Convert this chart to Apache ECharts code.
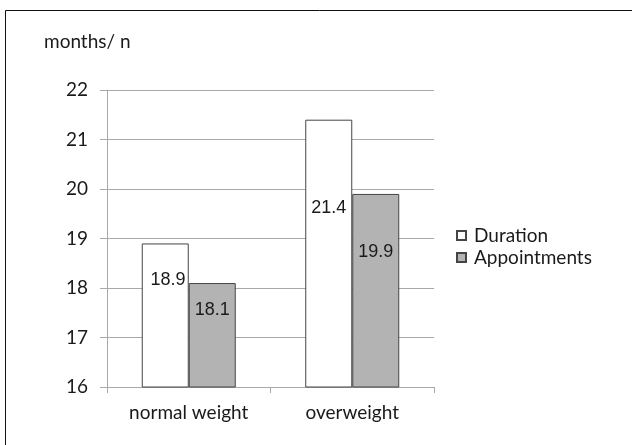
<!DOCTYPE html>
<html>
<head>
<meta charset="utf-8">
<script src="https://cdn.jsdelivr.net/npm/echarts@6/dist/echarts.min.js"></script>
<style>
  html, body { margin: 0; padding: 0; background: #fff; }
  #chart { width: 632px; height: 445px; }
</style>
</head>
<body>
<div id="chart"></div>
<script>
// Mean treatment duration and number of appointments by weight group
const categories = ['normal weight', 'overweight'];
const duration = [18.9, 21.4];
const appointments = [18.1, 19.9];
const yTicks = { min: 16, max: 22, step: 1 };
const unitLabel = 'months/ n';

// Where each value label sits inside its bar: [x, y] from the bar's top-left corner
const durationLabelPos = [['56%', 37], ['50%', 88]];
const appointmentLabelPos = [['50%', 27], ['50%', 58]];

const AXIS_FONT = 'Lato, "Open Sans", sans-serif';
const VALUE_FONT = '"Liberation Sans", Arial, sans-serif';
const GRID_GREY = '#a9a9a9';
const TEXT = '#1a1a1a';

function barData(values, positions) {
  return values.map((v, i) => ({
    value: v,
    label: { position: positions[i] }
  }));
}

const valueLabel = {
  show: true,
  align: 'center',
  verticalAlign: 'middle',
  fontFamily: VALUE_FONT,
  fontSize: 18,
  color: TEXT
};

const chart = echarts.init(document.getElementById('chart'), null, { renderer: 'canvas' });
chart.setOption({
  animation: false,
  backgroundColor: '#fff',
  graphic: [
    {
      type: 'rect',
      shape: { x: 5.5, y: 10.5, width: 700, height: 600 },
      style: { fill: 'none', stroke: '#111', lineWidth: 1 },
      silent: true
    },
    {
      type: 'text',
      x: 44,
      y: 42,
      style: {
        text: unitLabel,
        fontFamily: AXIS_FONT,
        fontSize: 19,
        fill: TEXT,
        verticalAlign: 'middle'
      }
    }
  ],
  grid: { left: 107, right: 198, top: 90, bottom: 58, containLabel: false },
  legend: {
    orient: 'vertical',
    left: 456,
    top: 226,
    padding: 0,
    itemWidth: 9,
    itemHeight: 9,
    itemGap: 3,
    icon: 'rect',
    textStyle: {
      fontFamily: AXIS_FONT,
      fontSize: 19,
      lineHeight: 19,
      color: TEXT,
      padding: [0, 0, 0, 3]
    },
    data: ['Duration', 'Appointments']
  },
  xAxis: {
    type: 'category',
    data: categories,
    axisLine: { show: true, lineStyle: { color: GRID_GREY, width: 1 } },
    axisTick: { show: true, length: 6, lineStyle: { color: GRID_GREY } },
    axisLabel: { fontFamily: AXIS_FONT, fontSize: 19, color: TEXT, margin: 16 }
  },
  yAxis: {
    type: 'value',
    min: yTicks.min,
    max: yTicks.max,
    interval: yTicks.step,
    axisLine: { show: true, lineStyle: { color: GRID_GREY, width: 1 } },
    axisTick: { show: true, length: 7, lineStyle: { color: GRID_GREY } },
    axisLabel: { fontFamily: AXIS_FONT, fontSize: 19, color: TEXT, margin: 19 },
    splitLine: { show: true, lineStyle: { color: GRID_GREY, width: 1 } }
  },
  series: [
    {
      name: 'Duration',
      type: 'bar',
      barWidth: 47,
      barGap: '0%',
      data: barData(duration, durationLabelPos),
      itemStyle: { color: '#ffffff', borderColor: '#454545', borderWidth: 1 },
      label: valueLabel
    },
    {
      name: 'Appointments',
      type: 'bar',
      barWidth: 47,
      barGap: '0%',
      data: barData(appointments, appointmentLabelPos),
      itemStyle: { color: '#b3b3b3', borderColor: '#454545', borderWidth: 1 },
      label: valueLabel
    }
  ]
});
</script>
</body>
</html>
